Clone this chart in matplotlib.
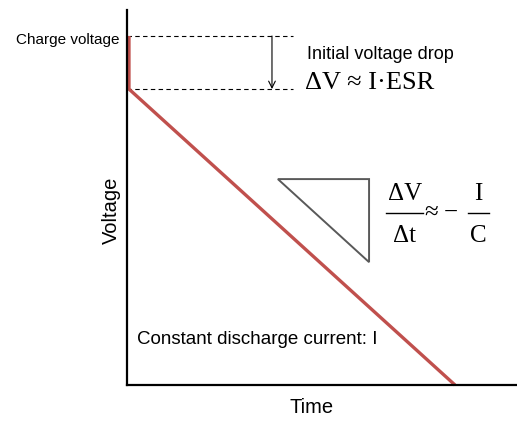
import matplotlib
matplotlib.use("Agg")
import matplotlib.pyplot as plt
from matplotlib.patches import Polygon

# discharge curve (normalised units: time 0..1, voltage 0..1)
time = [0.006, 0.006, 1.0]
voltage = [1.0, 0.848, 0.0]

charge_v = 1.0
drop_v = 0.848

# slope triangle corners (time, voltage)
tri_t = [0.46, 0.738, 0.738]
tri_v = [0.590, 0.590, 0.352]

RED = "#C0504D"
SANS = "Liberation Sans"
SERIF = "Liberation Serif"

fig = plt.figure(figsize=(5.17, 4.23), dpi=100)
ax = fig.add_axes([127 / 517, 38 / 423, 390 / 517, 375 / 423])
ax.set_xlim(0, 390 / 328)
ax.set_ylim(0, 375 / 349)

for s in ["top", "right"]:
    ax.spines[s].set_visible(False)
for s in ["left", "bottom"]:
    ax.spines[s].set_linewidth(1.6)
    ax.spines[s].set_color("black")
ax.set_xticks([])
ax.set_yticks([])

# dashed reference levels
ax.plot([0, 0.506], [charge_v, charge_v], color="black", lw=0.8, ls=(0, (4, 3)))
ax.plot([0, 0.506], [drop_v, drop_v], color="black", lw=0.8, ls=(0, (4, 3)))

# drop arrow
ax.annotate("", xy=(0.442, drop_v), xytext=(0.442, charge_v),
            arrowprops=dict(arrowstyle="->", color="black", lw=0.8,
                            shrinkA=0, shrinkB=0, mutation_scale=12))

# voltage curve
ax.plot(time, voltage, color=RED, lw=2.4, solid_capstyle="butt", clip_on=False)

# slope triangle
tri = Polygon(list(zip(tri_t, tri_v)), closed=True, fill=False,
              edgecolor="#595959", lw=1.4)
ax.add_patch(tri)

# labels
ax.text(-0.024, 0.9885, "Charge voltage", ha="right", va="center",
        fontsize=11, family=SANS, clip_on=False)
ax.text(0.549, 0.934, "Initial voltage drop", ha="left", va="baseline",
        fontsize=13, family=SANS)
ax.text(0.543, drop_v, "ΔV ≈ I·ESR", ha="left", va="baseline",
        fontsize=19, family=SERIF)
ax.text(0.030, 0.1175, "Constant discharge current: I", ha="left",
        va="baseline", fontsize=13.5, family=SANS)

# slope formula  dV/dt ~ -I/C
def px(x, y):
    return (x - 127) / 328, (385 - y) / 349

fs = 18
for txt, (x, y) in [("ΔV", px(405, 200)), ("Δt", px(405, 242)),
                    ("I", px(478, 200)), ("C", px(478, 242))]:
    ax.text(x, y, txt, ha="center", va="baseline", fontsize=fs, family=SERIF)
for x0, x1 in [(386, 423), (468, 489)]:
    a, b = px(x0, 213), px(x1, 213)
    ax.plot([a[0], b[0]], [a[1], b[1]], color="black", lw=1.0)
ax.text(*px(431, 213), "≈", ha="center", va="center", fontsize=fs, family=SERIF)
ax.text(*px(451, 213), "−", ha="center", va="center", fontsize=fs, family=SERIF)

ax.set_ylabel("Voltage", fontsize=14.5, family=SANS)
ax.yaxis.set_label_coords(-0.015, 0.467)
ax.set_xlabel("Time", fontsize=14.5, family=SANS)
ax.xaxis.set_label_coords(0.474, -0.035)

fig.savefig("out.png", dpi=100)
